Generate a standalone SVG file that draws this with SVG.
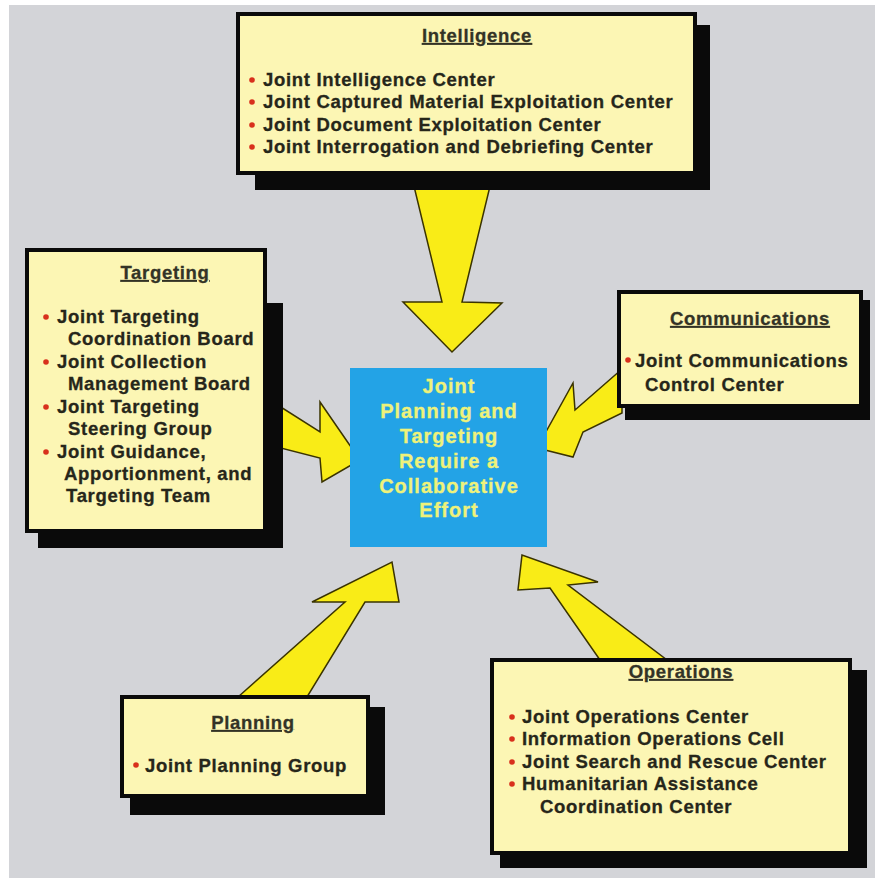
<svg xmlns="http://www.w3.org/2000/svg" width="875" height="878" viewBox="0 0 875 878">
<style>
.bg{fill:#d3d4d8}
.shadow{fill:#0a0a0a}
.box{fill:#fcf6b4;stroke:#0a0a0a;stroke-width:4}
.arrow{fill:#f9ec17;stroke:#3a3300;stroke-width:1.5;stroke-linejoin:miter}
.t{font-family:"Liberation Sans",Arial,sans-serif;font-weight:bold;font-size:18.5px;letter-spacing:0.7px;fill:#26261a;stroke:#26261a;stroke-width:0.3}
.title{text-anchor:middle;text-decoration:underline;fill:#333326;stroke:#333326}
.dot{fill:#d8301c}
.ctr{font-family:"Liberation Sans",Arial,sans-serif;font-weight:bold;font-size:20px;letter-spacing:1px;fill:#eef27a;stroke:#eef27a;stroke-width:0.3;text-anchor:middle}
</style>
<rect x="0" y="0" width="875" height="878" fill="#ffffff"/>
<rect class="bg" x="9" y="5" width="866" height="873"/>

<g id="connectors">
<polygon class="arrow" points="412,178 492,178 462,302 502,303 452,352 403,302 442,302"/>
<polygon class="arrow" points="265,397 320,432 320,402 360,460 322,482 320,458 265,444"/>
<polygon class="arrow" points="622,369 575,410 573,383 537,448 573,457 583,432 622,413"/>
<polygon class="arrow" points="238,697 345,602 312,602 392,562 399,602 365,602 307,697"/>
<polygon class="arrow" points="600,660 550,588 518,590 522,555 598,582 568,585 667,660"/>
</g>

<g id="center">
<rect x="350" y="368" width="197" height="179" fill="#23a3e6"/>
<text class="ctr" x="449" y="393">Joint</text>
<text class="ctr" x="449" y="418">Planning and</text>
<text class="ctr" x="449" y="443">Targeting</text>
<text class="ctr" x="449" y="468">Require a</text>
<text class="ctr" x="449" y="493">Collaborative</text>
<text class="ctr" x="449" y="517">Effort</text>
</g>

<g id="intelligence">
<rect class="shadow" x="255" y="25" width="455" height="165"/>
<rect class="box" x="238" y="14" width="457" height="159"/>
<text class="t title" x="477" y="42">Intelligence</text>
<circle class="dot" cx="252" cy="80" r="2.8"/>
<text class="t" x="263" y="86">Joint Intelligence Center</text>
<circle class="dot" cx="252" cy="102" r="2.8"/>
<text class="t" x="263" y="108">Joint Captured Material Exploitation Center</text>
<circle class="dot" cx="252" cy="125" r="2.8"/>
<text class="t" x="263" y="131">Joint Document Exploitation Center</text>
<circle class="dot" cx="252" cy="147" r="2.8"/>
<text class="t" x="263" y="153">Joint Interrogation and Debriefing Center</text>
</g>

<g id="targeting">
<rect class="shadow" x="38" y="303" width="245" height="245"/>
<rect class="box" x="27" y="250" width="238" height="281"/>
<text class="t title" x="165" y="279">Targeting</text>
<circle class="dot" cx="46" cy="317" r="2.8"/>
<text class="t" x="57" y="323">Joint Targeting</text>
<text class="t" x="68" y="345">Coordination Board</text>
<circle class="dot" cx="46" cy="362" r="2.8"/>
<text class="t" x="57" y="368">Joint Collection</text>
<text class="t" x="68" y="390">Management Board</text>
<circle class="dot" cx="46" cy="407" r="2.8"/>
<text class="t" x="57" y="413">Joint Targeting</text>
<text class="t" x="68" y="435">Steering Group</text>
<circle class="dot" cx="46" cy="452" r="2.8"/>
<text class="t" x="57" y="458">Joint Guidance,</text>
<text class="t" x="64" y="480">Apportionment, and</text>
<text class="t" x="66" y="502">Targeting Team</text>
</g>

<g id="communications">
<rect class="shadow" x="625" y="300" width="245" height="120"/>
<rect class="box" x="619" y="292" width="242" height="114"/>
<text class="t title" x="750" y="325">Communications</text>
<circle class="dot" cx="628" cy="360" r="2.8"/>
<text class="t" x="635" y="367">Joint Communications</text>
<text class="t" x="645" y="391">Control Center</text>
</g>

<g id="planning">
<rect class="shadow" x="130" y="707" width="255" height="108"/>
<rect class="box" x="122" y="697" width="246" height="99"/>
<text class="t title" x="253" y="729">Planning</text>
<circle class="dot" cx="136" cy="765" r="2.8"/>
<text class="t" x="145" y="772">Joint Planning Group</text>
</g>

<g id="operations">
<rect class="shadow" x="500" y="670" width="367" height="198"/>
<rect class="box" x="492" y="660" width="358" height="193"/>
<text class="t title" x="681" y="678">Operations</text>
<circle class="dot" cx="512" cy="717" r="2.8"/>
<text class="t" x="522" y="723">Joint Operations Center</text>
<circle class="dot" cx="512" cy="739" r="2.8"/>
<text class="t" x="522" y="745">Information Operations Cell</text>
<circle class="dot" cx="512" cy="762" r="2.8"/>
<text class="t" x="522" y="768">Joint Search and Rescue Center</text>
<circle class="dot" cx="512" cy="784" r="2.8"/>
<text class="t" x="522" y="790">Humanitarian Assistance</text>
<text class="t" x="540" y="813">Coordination Center</text>
</g>
</svg>
